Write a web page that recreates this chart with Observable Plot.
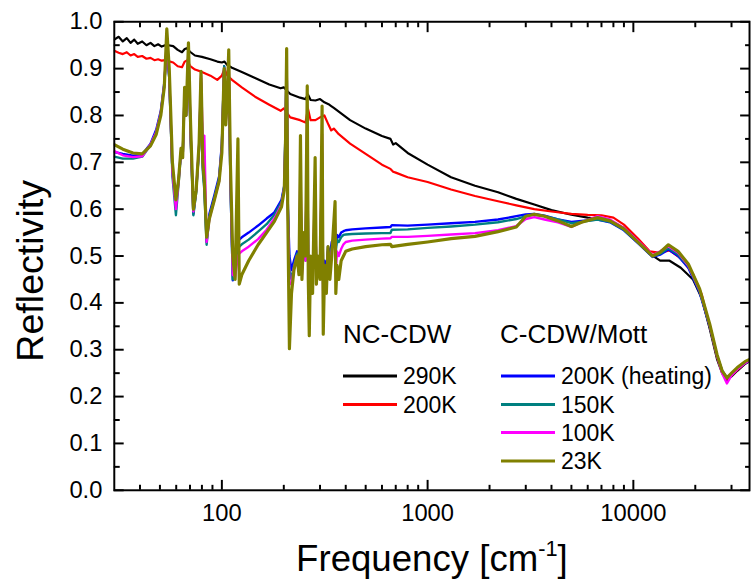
<!DOCTYPE html>
<html><head><meta charset="utf-8">
<script src="https://cdn.jsdelivr.net/npm/d3@7"></script>
<script src="https://cdn.jsdelivr.net/npm/@observablehq/plot@0.6"></script>
<style>
html,body{margin:0;padding:0;background:#fff;overflow:hidden;}
#wrap{position:relative;width:752px;height:586px;overflow:hidden;background:#fff;}
#wrap svg.legend{position:absolute;left:0;top:0;pointer-events:none;}
</style></head>
<body><div id="wrap"></div>
<script>
// ---------- data ----------
const freqN = [30,31.5,33,34.5,36,37.5,39,41,43,45,47,49,51,53,55,58,61,64,66,68,70,74,80,88,95,100,103,106,112,125,145,170,193,200,205,215,240,255,262,270,285,300,315,330,340,350,370,420,500,600,660,680,700,800,1000,1300,1700,2200,2700,3300,4000,5000,6000,7000,8000,9000,10500,12000,13500,15000,17000,19500,21500,23500,25500,27000,28500,30000,32000,35000,37000];
const r290 = [.962,.968,.958,.965,.955,.962,.953,.958,.950,.955,
.948,.952,.947,.950,.950,.948,.940,.935,.942,.944,
.936,.928,.925,.920,.915,.913,.915,.908,.902,.893,
.880,.866,.858,.860,.855,.846,.838,.835,.845,.833,
.832,.835,.828,.824,.820,.816,.808,.790,.772,.756,
.750,.738,.741,.720,.695,.668,.650,.636,.622,.610,
.598,.588,.582,.578,.572,.560,.535,.505,.490,.490,
.475,.450,.410,.345,.280,.250,.235,.243,.255,.270,.276];
const r200 = [.938,.934,.931,.935,.928,.931,.925,.927,.921,.923,
.918,.920,.917,.918,.916,.913,.905,.903,.915,.918,
.906,.898,.893,.885,.876,.885,.900,.886,.876,.860,
.840,.823,.810,.815,.808,.796,.790,.785,.815,.790,
.790,.796,.800,.780,.768,.772,.760,.740,.718,.695,
.686,.680,.678,.668,.658,.642,.628,.617,.608,.600,
.595,.590,.588,.587,.582,.567,.538,.510,.507,.512,
.495,.462,.418,.350,.285,.252,.238,.245,.257,.272,.278];

const freqC = [30,33,37,41,45,48,50.5,52.5,54,55.5,57.5,59.8,61.5,63.3,64.5,65.9,67,68.8,70.5,72.7,75,77.5,79.2,80.8,82.2,84.3,87,92,97,100,102.6,104.5,106,108,110,113,116,119.7,121.5,125,135,150,165,180,195,201,204,206.5,209,213,218,224,232,237,241,245,250,255,260,263,266,270,276,284,288,293,300,307,311,316,322,328,335,342,355,358,363,370,380,390,400,430,500,600,660,670,800,1000,1300,1700,2200,2700,3000,3300,3700,4300,5000,5600,6700,7700,9000,10500,12400,13500,14800,16500,18500,21000,23500,25500,27000,28500,30000,32000,35000,37000];
const r200h = [.722,.718,.714,.716,.740,.770,.810,.870,.940,.880,
.680,.610,.660,.720,.710,.840,.800,.930,.760,.590,
.640,.730,.870,.690,.650,.530,.590,.630,.670,.740,
.905,.800,.840,.900,.660,.448,.500,.530,.535,.540,
.550,.565,.580,.593,.620,.650,.780,.930,.620,.500,
.470,.490,.510,.490,.620,.480,.520,.500,.750,.470,
.440,.490,.460,.600,.460,.490,.470,.700,.420,.490,
.460,.520,.500,.530,.540,.520,.545,.540,.550,.553,
.555,.557,.559,.561,.562,.566,.565,.567,.570,.573,
.578,.585,.589,.590,.586,.578,.573,.575,.578,.572,
.555,.528,.498,.503,.514,.500,.475,.422,.350,.287,
.255,.240,.248,.260,.272,.278];
const r150 = [.712,.708,.708,.712,.737,.765,.805,.865,.950,.880,
.670,.587,.650,.720,.710,.850,.800,.940,.750,.587,
.635,.730,.880,.680,.640,.524,.585,.625,.665,.735,
.905,.790,.835,.910,.660,.450,.470,.510,.520,.525,
.535,.552,.568,.588,.615,.648,.770,.935,.610,.470,
.450,.480,.505,.480,.650,.470,.520,.490,.780,.460,
.410,.480,.450,.620,.450,.490,.460,.720,.400,.480,
.450,.510,.490,.520,.535,.510,.535,.530,.540,.545,
.546,.547,.548,.549,.549,.556,.557,.560,.563,.567,
.572,.579,.585,.589,.585,.578,.570,.573,.578,.573,
.556,.529,.499,.505,.517,.503,.478,.424,.352,.288,
.256,.240,.248,.260,.272,.278];
const r100 = [.724,.715,.711,.713,.738,.765,.805,.865,.960,.885,
.680,.600,.655,.725,.710,.850,.800,.945,.760,.595,
.640,.735,.885,.740,.757,.530,.580,.620,.660,.730,
.900,.785,.830,.920,.680,.460,.455,.500,.505,.510,
.520,.536,.556,.580,.610,.645,.760,.940,.610,.440,
.440,.475,.500,.470,.700,.460,.530,.490,.820,.450,
.380,.480,.440,.660,.440,.490,.455,.760,.370,.480,
.440,.510,.470,.510,.570,.470,.510,.500,.515,.525,
.530,.533,.535,.537,.538,.541,.541,.543,.546,.549,
.555,.564,.579,.583,.578,.572,.562,.572,.585,.578,
.560,.533,.502,.510,.521,.507,.480,.427,.353,.287,
.250,.228,.245,.258,.272,.278];
const r23 = [.738,.728,.720,.718,.735,.760,.800,.860,.985,.900,
.700,.620,.660,.730,.710,.860,.800,.955,.780,.600,
.640,.740,.894,.700,.660,.540,.580,.620,.660,.720,
.900,.780,.830,.940,.700,.500,.450,.750,.440,.460,
.490,.524,.550,.574,.605,.640,.750,.943,.600,.302,
.420,.470,.500,.460,.757,.450,.550,.500,.863,.450,
.330,.500,.420,.710,.440,.500,.450,.820,.333,.480,
.420,.520,.450,.500,.616,.420,.480,.450,.490,.500,
.510,.515,.520,.524,.525,.520,.525,.530,.537,.542,
.552,.562,.585,.589,.585,.575,.563,.572,.582,.575,
.558,.530,.500,.508,.524,.510,.483,.430,.355,.290,
.255,.240,.250,.262,.275,.280];

const groupTitles = ["NC-CDW", "C-CDW/Mott"];
const seriesNames = ["290K", "200K", "200K (heating)", "150K", "100K", "23K"];
const seriesColors = ["#000000", "#ff0000", "#0000ff", "#008080", "#ff00ff", "#808000"];
const seriesGroup = [0, 0, 1, 1, 1, 1];
const xMajor = [100, 1000, 10000];
const xMinor = [40,50,60,70,80,90,200,300,400,500,600,700,800,900,2000,3000,4000,5000,6000,7000,8000,9000,20000,30000];
const yMajor = [0,0.1,0.2,0.3,0.4,0.5,0.6,0.7,0.8,0.9,1.0];
const yMinor = [0.05,0.15,0.25,0.35,0.45,0.55,0.65,0.75,0.85,0.95];
const xTitle = "Frequency [cm-1]";
const yTitle = "Reflectivity";

// ---------- build ----------
const FONT = "'Liberation Sans', Arial, Helvetica, sans-serif";
const seriesData = [
  [freqN, r290], [freqN, r200], [freqC, r200h], [freqC, r150], [freqC, r100], [freqC, r23]
].map(([fs, rs], k) => fs.map((f, i) => ({f, r: rs[i], s: seriesNames[k]})));
const widths = [2.2, 2.2, 2.4, 2.4, 2.4, 3.2];

const lineMarks = seriesData.map((d, k) =>
  Plot.line(d, {x: "f", y: "r", stroke: seriesColors[k], strokeWidth: widths[k], strokeLinejoin: "round", clip: true}));

const chart = Plot.plot({
  width: 760, height: 586,
  marginLeft: 115, marginRight: 3, marginTop: 21.5, marginBottom: 91,
  style: {fontFamily: FONT, background: "white", color: "black", overflow: "visible"},
  x: {type: "log", domain: [30, 36700]},
  y: {domain: [0, 1]},
  marks: [
    ...lineMarks,
    Plot.frame({stroke: "black", strokeWidth: 2}),
    Plot.axisX(xMajor, {anchor: "bottom", tickSize: -10, strokeWidth: 2, fill: "none", label: null}),
    Plot.axisX(xMinor, {anchor: "bottom", tickSize: -5, strokeWidth: 2, fill: "none", label: null}),
    Plot.axisX(xMajor, {anchor: "top", tickSize: -10, strokeWidth: 2, fill: "none", label: null}),
    Plot.axisX(xMinor, {anchor: "top", tickSize: -5, strokeWidth: 2, fill: "none", label: null}),
    Plot.axisY(yMajor, {anchor: "left", tickSize: -10, strokeWidth: 2, fill: "none", label: null}),
    Plot.axisY(yMinor, {anchor: "left", tickSize: -6, strokeWidth: 2, fill: "none", label: null}),
    Plot.axisY(yMajor, {anchor: "right", tickSize: -10, strokeWidth: 2, fill: "none", label: null}),
    Plot.axisY(yMinor, {anchor: "right", tickSize: -5, strokeWidth: 2, fill: "none", label: null}),
    Plot.axisX(xMajor, {anchor: "bottom", tickSize: 0, tickPadding: 14, fontSize: 24, tickFormat: d => String(d), label: null}),
    Plot.axisY(yMajor, {anchor: "left", tickSize: 0, tickPadding: 12, fontSize: 24, tickFormat: d => d.toFixed(1), label: null}),
    Plot.text([yTitle], {text: d => d, frameAnchor: "left", rotate: -90, dx: -84, dy: 15, fontSize: 38, textAnchor: "middle", lineAnchor: "middle"}),
    Plot.text([xTitle], {text: d => d, frameAnchor: "bottom", dy: 70, fontSize: 37, textAnchor: "middle", lineAnchor: "middle"})
  ]
});

const wrap = document.getElementById("wrap");
wrap.appendChild(chart);

// superscript in the x title
d3.select(chart).selectAll("text").filter(function () { return this.textContent === xTitle; })
  .each(function () {
    const t = d3.select(this);
    t.text(null);
    t.append("tspan").text("Frequency [cm");
    t.append("tspan").attr("dy", -15).attr("font-size", 22).text("-1");
    t.append("tspan").attr("dy", 15).text("]");
  });

// legend overlay
const lg = d3.select(wrap).append("svg").attr("class", "legend")
  .attr("width", 752).attr("height", 586)
  .style("font-family", FONT);
const groupX = [343, 500];
lg.selectAll("text.gt").data(groupTitles).join("text")
  .attr("x", (d, i) => groupX[i]).attr("y", 343).attr("font-size", 26).text(d => d);
const rowY = [376, 404.5, 432.5, 461];
const rowIdx = [0, 1, 0, 1, 2, 3];
seriesNames.forEach((name, k) => {
  const gx = groupX[seriesGroup[k]] + (seriesGroup[k] ? 1 : 0);
  const y = rowY[rowIdx[k]];
  lg.append("line").attr("x1", gx).attr("x2", gx + 54).attr("y1", y).attr("y2", y)
    .attr("stroke", seriesColors[k]).attr("stroke-width", 3);
  lg.append("text").attr("x", gx + 60).attr("y", y + 8).attr("font-size", 23).text(name);
});
</script>
</body></html>
